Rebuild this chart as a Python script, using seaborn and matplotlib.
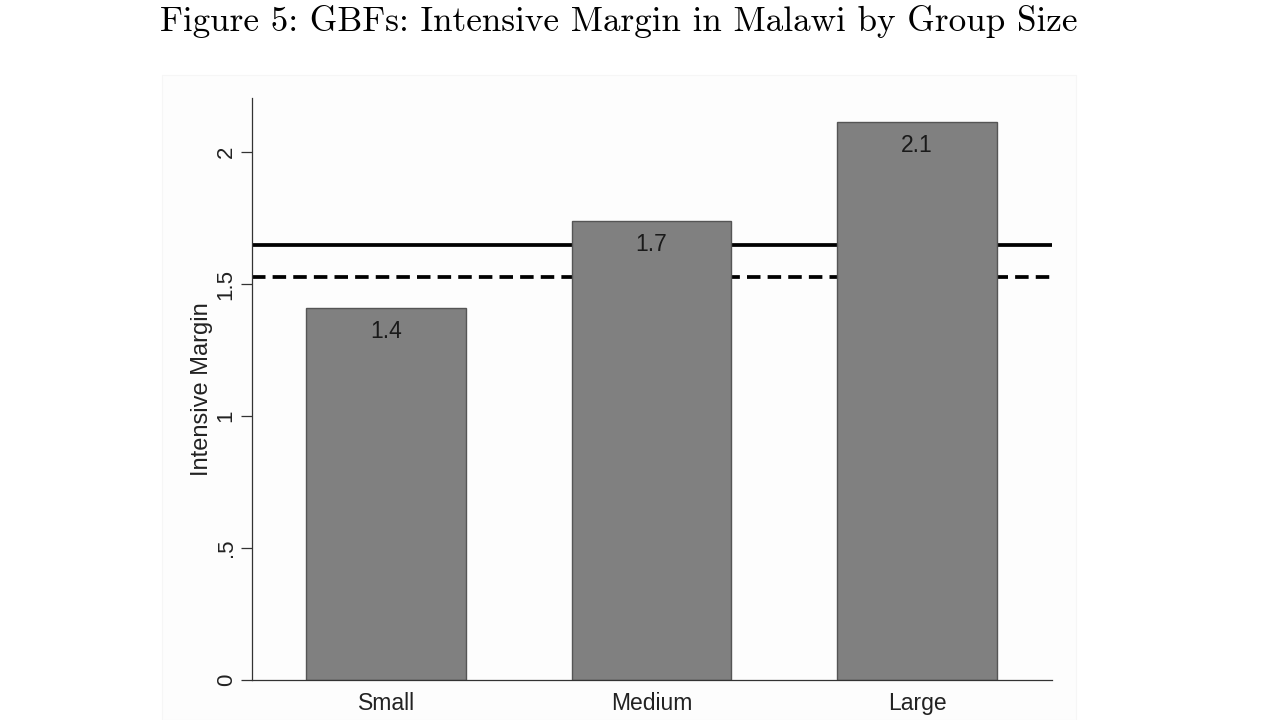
import matplotlib
matplotlib.use("Agg")
import matplotlib.pyplot as plt
import seaborn as sns
import pandas as pd
from matplotlib.patches import Rectangle

# data
group_sizes = ["Small", "Medium", "Large"]
intensive_margin = [1.409, 1.739, 2.114]
solid_ref = 1.648    # solid horizontal reference line
dashed_ref = 1.527   # dashed horizontal reference line
y_ticks = [0, 0.5, 1, 1.5, 2]
y_tick_labels = ["0", ".5", "1", "1.5", "2"]

df = pd.DataFrame({"group": group_sizes, "margin": intensive_margin})

sns.set_style("ticks")
plt.rcParams["font.family"] = ["Liberation Sans", "DejaVu Sans"]

fig = plt.figure(figsize=(12.8, 7.2), dpi=100)
# faint panel behind the graph, like the exported Stata graph region
fig.patches.append(Rectangle((162 / 1280, 0), (1076 - 162) / 1280, 1 - 75 / 720,
                             transform=fig.transFigure, facecolor="#fdfdfd",
                             edgecolor="#f6f6f6", lw=0.8, zorder=-5))
ax = fig.add_axes([252 / 1280, 40 / 720, 800 / 1280, 582 / 720])
ax.set_facecolor("none")

ax.axhline(solid_ref, color="black", lw=2.7, zorder=0.5)
dl = ax.axhline(dashed_ref, color="black", lw=2.7, zorder=0.5)
dl.set_dashes([3.6, 1.9])

sns.barplot(data=df, x="group", y="margin", color="#808080", saturation=1,
            width=0.6, edgecolor="#555555", linewidth=1.0, ax=ax, zorder=1)

ax.bar_label(ax.containers[0], fmt="%.1f", padding=-25, fontsize=16.5, color="#1a1a1a")

ax.set_xlim(-0.505, 2.508)
ax.set_ylim(0, 2.205)
ax.set_yticks(y_ticks)
ax.set_yticklabels(y_tick_labels, rotation=90, va="center", fontsize=16, color="#222222")
ax.tick_params(axis="y", length=8, width=0.9, color="#333333", pad=3)
ax.tick_params(axis="x", length=0, labelsize=16.5, labelcolor="#222222", pad=8.5)
ax.set_xlabel("")
ax.set_ylabel("Intensive Margin", fontsize=17, color="#222222", va="center")
ax.yaxis.set_label_coords((202 - 252) / 800, 0.5)
sns.despine(ax=ax)
for s in ["left", "bottom"]:
    ax.spines[s].set_color("#333333")
    ax.spines[s].set_linewidth(0.9)

fig.text(619 / 1280, 1 - 22 / 720,
         "Figure 5: GBFs: Intensive Margin in Malawi by Group Size",
         family="cmr10", fontsize=25.3, color="black", ha="center", va="center")

fig.savefig("out.png", dpi=100)
